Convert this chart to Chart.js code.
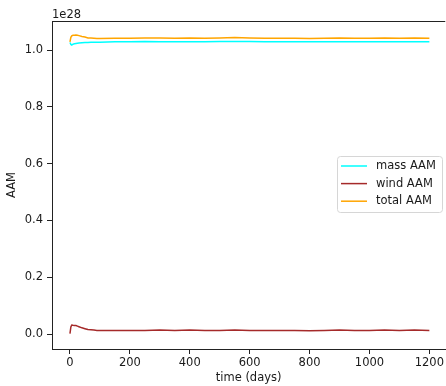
<!DOCTYPE html>
<html lang="en">
<head>
    <meta charset="UTF-8">
    <title>AAM</title>
    <script src="https://cdn.jsdelivr.net/npm/chart.js@4.4.0/dist/chart.umd.js"></script>
    <style>
        html, body { margin: 0; padding: 0; background: #fff; }
        #wrap { width: 446px; height: 386px; }
    </style>
</head>
<body>
    <div id="wrap"><canvas id="aamChart" width="446" height="386"></canvas></div>

    <script>
        // values in units of 1e28
        const days = [0, 3, 6, 10, 15, 20, 25, 30, 40, 50, 60, 70, 80, 90, 100,
            150, 200, 250, 300, 350, 400, 450, 500, 550, 600, 650, 700, 750,
            800, 850, 900, 950, 1000, 1050, 1100, 1150, 1200];
        const massAAM = [1.027, 1.020, 1.018, 1.021, 1.022, 1.023, 1.024, 1.025, 1.026, 1.027, 1.027, 1.028, 1.028, 1.028, 1.028,
            1.029, 1.029, 1.030, 1.029, 1.029, 1.029, 1.029, 1.030, 1.030, 1.030, 1.029, 1.029, 1.029,
            1.029, 1.029, 1.029, 1.029, 1.029, 1.029, 1.029, 1.029, 1.029];
        const windAAM = [0.002, 0.025, 0.032, 0.031, 0.030, 0.030, 0.028, 0.026, 0.022, 0.019, 0.016, 0.015, 0.014, 0.013, 0.013,
            0.013, 0.013, 0.013, 0.014, 0.013, 0.014, 0.013, 0.013, 0.014, 0.013, 0.013, 0.013, 0.013,
            0.012, 0.013, 0.014, 0.013, 0.013, 0.014, 0.013, 0.014, 0.013];
        const totalAAM = [1.029, 1.045, 1.050, 1.052, 1.052, 1.053, 1.052, 1.051, 1.048, 1.046, 1.043, 1.043, 1.042, 1.041, 1.041,
            1.042, 1.042, 1.043, 1.043, 1.042, 1.043, 1.042, 1.043, 1.044, 1.043, 1.042, 1.042, 1.042,
            1.041, 1.042, 1.043, 1.042, 1.042, 1.043, 1.042, 1.043, 1.042];
        const xTicks = [0, 200, 400, 600, 800, 1000, 1200];
        const yTicks = [0.0, 0.2, 0.4, 0.6, 0.8, 1.0];
        const seriesNames = ['mass AAM', 'wind AAM', 'total AAM'];
        const seriesColors = ['#00ffff', '#a52a2a', '#ffa500'];
        const yOffsetText = '1e28';

        const FONT = 'DejaVu Sans';
        const FONT_SIZE = 11.5;
        Chart.defaults.font.family = FONT;
        Chart.defaults.font.size = FONT_SIZE;
        Chart.defaults.color = '#1a1a1a';

        function toPoints(ys) {
            return days.map((d, i) => ({ x: d, y: ys[i] }));
        }

        // draws the top spine, the offset text and the boxed legend
        const extras = {
            id: 'extras',
            afterDraw(chart) {
                const ctx = chart.ctx;
                const area = chart.chartArea;
                ctx.save();
                ctx.strokeStyle = '#222';
                ctx.lineWidth = 1;
                ctx.beginPath();
                ctx.moveTo(area.left, area.top + 0.5);
                ctx.lineTo(area.right, area.top + 0.5);
                ctx.stroke();

                ctx.fillStyle = '#1a1a1a';
                ctx.font = FONT_SIZE + 'px "' + FONT + '"';
                ctx.textAlign = 'left';
                ctx.textBaseline = 'alphabetic';
                ctx.fillText(yOffsetText, area.left, area.top - 3.5);

                // legend box
                const bx = 337.5, by = 156.5, bw = 105, bh = 56, r = 3;
                ctx.beginPath();
                ctx.moveTo(bx + r, by);
                ctx.arcTo(bx + bw, by, bx + bw, by + bh, r);
                ctx.arcTo(bx + bw, by + bh, bx, by + bh, r);
                ctx.arcTo(bx, by + bh, bx, by, r);
                ctx.arcTo(bx, by, bx + bw, by, r);
                ctx.closePath();
                ctx.fillStyle = 'rgba(255,255,255,0.8)';
                ctx.fill();
                ctx.strokeStyle = '#d6d6d6';
                ctx.stroke();

                ctx.textBaseline = 'middle';
                chart.data.datasets.forEach((ds, i) => {
                    const y = 166 + i * 17.6;
                    ctx.strokeStyle = ds.borderColor;
                    ctx.lineWidth = 1.5;
                    ctx.beginPath();
                    ctx.moveTo(341, y);
                    ctx.lineTo(367, y);
                    ctx.stroke();
                    ctx.fillStyle = '#1a1a1a';
                    ctx.fillText(ds.label, 376, y);
                });
                ctx.restore();
            }
        };

        new Chart(document.getElementById('aamChart'), {
            type: 'line',
            data: {
                datasets: [massAAM, windAAM, totalAAM].map((vals, i) => ({
                    label: seriesNames[i],
                    data: toPoints(vals),
                    borderColor: seriesColors[i],
                    backgroundColor: seriesColors[i],
                    borderWidth: 1.5,
                    pointRadius: 0,
                    tension: 0,
                    fill: false
                }))
            },
            options: {
                responsive: false,
                animation: false,
                layout: { padding: { top: 21, right: 0, left: 0, bottom: 0 } },
                plugins: {
                    legend: { display: false },
                    tooltip: { enabled: false }
                },
                scales: {
                    x: {
                        type: 'linear',
                        min: -60,
                        max: 1253,
                        afterFit: s => { s.height = 37; },
                        afterBuildTicks: s => { s.ticks = xTicks.map(v => ({ value: v })); },
                        grid: { drawOnChartArea: false, tickLength: 5, tickColor: '#222' },
                        border: { color: '#222', width: 1 },
                        ticks: { padding: 2, maxRotation: 0, autoSkip: false, callback: v => String(v) },
                        title: { display: true, text: 'time (days)', padding: { top: 0, bottom: 1 } }
                    },
                    y: {
                        min: -0.0525,
                        max: 1.1025,
                        afterFit: s => { s.width = 52; },
                        afterBuildTicks: s => { s.ticks = yTicks.map(v => ({ value: v })); },
                        grid: { drawOnChartArea: false, tickLength: 5, tickColor: '#222' },
                        border: { color: '#222', width: 1 },
                        ticks: { padding: 4, autoSkip: false, callback: v => Number(v).toFixed(1) },
                        title: { display: true, text: 'AAM', padding: { top: 5, bottom: 0 } }
                    }
                }
            },
            plugins: [extras]
        });
    </script>
</body>
</html>
